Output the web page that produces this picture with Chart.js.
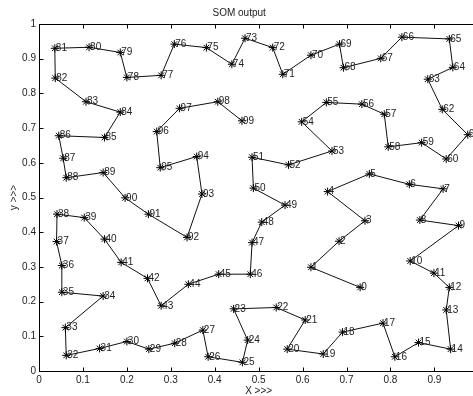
<!DOCTYPE html>
<html>
<head>
<meta charset="utf-8">
<script src="https://cdn.jsdelivr.net/npm/chart.js@4.4.1/dist/chart.umd.min.js"></script>
<style>
    html, body { margin: 0; padding: 0; background: #fff; overflow: hidden; }
</style>
</head>
<body>
<canvas id="somOutput" width="517" height="396"></canvas>
<script>
// Node positions of the trained map, in node order 0..99
const somX = [
    0.731, 0.619, 0.683, 0.742, 0.657, 0.752, 0.843, 0.920, 0.867, 0.955,
    0.845, 0.899, 0.934, 0.927, 0.937, 0.864, 0.810, 0.783, 0.691, 0.647,
    0.565, 0.606, 0.540, 0.443, 0.475, 0.463, 0.385, 0.373, 0.309, 0.250,
    0.200, 0.138, 0.062, 0.060, 0.146, 0.052, 0.052, 0.040, 0.041, 0.103,
    0.149, 0.187, 0.247, 0.278, 0.340, 0.409, 0.481, 0.485, 0.507, 0.560,
    0.488, 0.485, 0.568, 0.667, 0.598, 0.654, 0.735, 0.786, 0.795, 0.871,
    0.927, 0.976, 0.918, 0.885, 0.942, 0.934, 0.826, 0.778, 0.693, 0.684,
    0.619, 0.555, 0.532, 0.469, 0.439, 0.381, 0.308, 0.278, 0.200, 0.185,
    0.114, 0.036, 0.037, 0.107, 0.185, 0.149, 0.045, 0.055, 0.062, 0.146,
    0.196, 0.249, 0.337, 0.371, 0.359, 0.276, 0.268, 0.320, 0.407, 0.462
];
const somY = [
    0.241, 0.299, 0.374, 0.433, 0.517, 0.568, 0.538, 0.525, 0.435, 0.419,
    0.317, 0.282, 0.241, 0.176, 0.063, 0.082, 0.041, 0.138, 0.112, 0.049,
    0.063, 0.147, 0.183, 0.179, 0.089, 0.025, 0.041, 0.118, 0.080, 0.063,
    0.085, 0.065, 0.045, 0.125, 0.216, 0.227, 0.304, 0.373, 0.452, 0.442,
    0.380, 0.313, 0.267, 0.188, 0.250, 0.279, 0.279, 0.370, 0.429, 0.478,
    0.527, 0.616, 0.594, 0.634, 0.718, 0.774, 0.769, 0.740, 0.646, 0.658,
    0.611, 0.681, 0.754, 0.841, 0.875, 0.957, 0.962, 0.901, 0.874, 0.942,
    0.910, 0.855, 0.932, 0.959, 0.884, 0.932, 0.942, 0.852, 0.846, 0.918,
    0.933, 0.930, 0.844, 0.776, 0.746, 0.673, 0.678, 0.613, 0.557, 0.572,
    0.499, 0.452, 0.385, 0.510, 0.618, 0.586, 0.690, 0.757, 0.776, 0.721
];
// Label written next to each node
const nodeIds = somX.map((x, i) => String(i));
// Both axes run 0..1 in steps of 0.1
const axisTicks = [0, 0.1, 0.2, 0.3, 0.4, 0.5, 0.6, 0.7, 0.8, 0.9, 1];

const textColor = '#222';
const baseFont = {family: 'Liberation Sans, Arial, Helvetica, sans-serif', size: 10};

// Box around the axes with short inward ticks on every side
const axesFrame = {
    id: 'axesFrame',
    afterDraw(chart) {
        const ctx = chart.ctx;
        const area = chart.chartArea;
        const l = Math.round(area.left) + 0.5, r = Math.round(area.right) + 0.5;
        const t = Math.round(area.top) + 0.5, b = Math.round(area.bottom) + 0.5;
        const len = 4;
        ctx.save();
        ctx.strokeStyle = '#000';
        ctx.lineWidth = 1;
        ctx.strokeRect(l, t, r - l, b - t);
        ctx.beginPath();
        axisTicks.forEach(v => {
            const px = Math.round(chart.scales.x.getPixelForValue(v)) + 0.5;
            ctx.moveTo(px, b); ctx.lineTo(px, b - len);
            ctx.moveTo(px, t); ctx.lineTo(px, t + len);
            const py = Math.round(chart.scales.y.getPixelForValue(v)) + 0.5;
            ctx.moveTo(l, py); ctx.lineTo(l + len, py);
            ctx.moveTo(r, py); ctx.lineTo(r - len, py);
        });
        ctx.stroke();
        ctx.restore();
    }
};

// Node numbers, left aligned on the marker
const nodeLabels = {
    id: 'nodeLabels',
    afterDatasetsDraw(chart) {
        const ctx = chart.ctx;
        const meta = chart.getDatasetMeta(0);
        ctx.save();
        ctx.font = baseFont.size + 'px ' + baseFont.family;
        ctx.fillStyle = textColor;
        ctx.textAlign = 'left';
        ctx.textBaseline = 'middle';
        meta.data.forEach((pt, i) => {
            ctx.fillText(nodeIds[i], pt.x + 1, pt.y);
        });
        ctx.restore();
    }
};

const somCanvas = document.getElementById('somOutput').getContext('2d');
const somChart = new Chart(somCanvas, {
    type: 'scatter',
    data: {
        datasets: [{
            data: somX.map((x, i) => ({x: x, y: somY[i]})),
            showLine: true,
            borderColor: '#111',
            borderWidth: 1,
            pointStyle: 'star',
            pointRadius: 4,
            pointBorderColor: '#000',
            pointBorderWidth: 1,
            pointBackgroundColor: '#000'
        }]
    },
    options: {
        responsive: false,
        animation: false,
        layout: {padding: {left: 0, right: 38.7, top: 0, bottom: 0}},
        plugins: {
            legend: {display: false},
            tooltip: {enabled: false},
            title: {
                display: true,
                text: 'SOM output',
                color: textColor,
                font: {family: baseFont.family, size: 10, weight: 'normal', lineHeight: 1.2},
                padding: {top: 7, bottom: 5}
            }
        },
        scales: {
            x: {
                type: 'linear',
                min: 0,
                max: 1,
                afterBuildTicks: scale => { scale.ticks = axisTicks.map(v => ({value: v})); },
                afterFit: scale => { scale.height = 25; },
                grid: {display: false, drawTicks: false},
                border: {display: false},
                ticks: {color: textColor, font: baseFont, padding: 3, maxRotation: 0, autoSkip: false,
                    callback: v => String(+v.toFixed(1))},
                title: {display: true, text: 'X >>>', color: textColor,
                    font: {family: baseFont.family, size: 10, lineHeight: 1}, padding: 0}
            },
            y: {
                type: 'linear',
                min: 0,
                max: 1,
                afterBuildTicks: scale => { scale.ticks = axisTicks.map(v => ({value: v})); },
                afterFit: scale => { scale.width = 39; },
                grid: {display: false, drawTicks: false},
                border: {display: false},
                ticks: {color: textColor, font: baseFont, padding: 3, autoSkip: false,
                    callback: v => String(+v.toFixed(1))},
                title: {display: true, text: 'y >>>', color: textColor,
                    font: {family: baseFont.family, size: 10, lineHeight: 1.2}, padding: {top: 8.5, bottom: 0}}
            }
        }
    },
    plugins: [axesFrame, nodeLabels]
});
</script>
</body>
</html>
